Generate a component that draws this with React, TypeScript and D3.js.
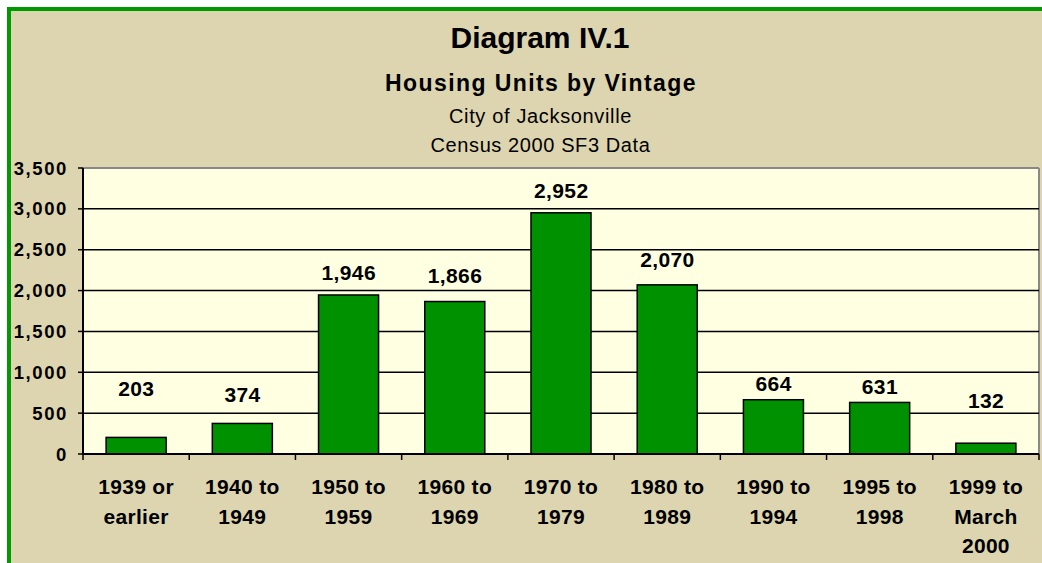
import React from "react";
import * as d3 from "d3";

const categories: string[][] = [
  ["1939 or", "earlier"],
  ["1940 to", "1949"],
  ["1950 to", "1959"],
  ["1960 to", "1969"],
  ["1970 to", "1979"],
  ["1980 to", "1989"],
  ["1990 to", "1994"],
  ["1995 to", "1998"],
  ["1999 to", "March", "2000"],
];
const units: number[] = [203, 374, 1946, 1866, 2952, 2070, 664, 631, 132];
const yTicks: number[] = [0, 500, 1000, 1500, 2000, 2500, 3000, 3500];
const titles = {
  main: "Diagram IV.1",
  sub: "Housing Units by Vintage",
  line1: "City of Jacksonville",
  line2: "Census 2000 SF3 Data",
};
// label lift above bar top (layout, px) — as placed in the original
const labelGap: number[] = [41, 21, 15, 19, 15, 18, 9, 8, 35];

const W = 1042;
const H = 563;
const plot = { left: 83, right: 1039, top: 168, bottom: 454 };
const FONT = "'Liberation Sans', Arial, sans-serif";

export default function App() {
  const x = d3
    .scaleBand<number>()
    .domain(d3.range(categories.length))
    .range([plot.left, plot.right])
    .paddingInner(0.435)
    .paddingOuter(0.2175);
  const y = d3.scaleLinear().domain([0, 3500]).range([plot.bottom, plot.top]);
  const step = x.step();
  const fmt = d3.format(",");
  const boundaries = d3.range(categories.length + 1).map((i) => plot.left + i * step);

  return (
    <svg
      width={W}
      height={H}
      style={{ position: "absolute", left: 0, top: 0, display: "block" }}
      fontFamily={FONT}
    >
      <rect x={0} y={0} width={W} height={H} fill="#ffffff" />
      <rect x={9} y={9} width={W + 20} height={H + 20} fill="#DDD5AF" stroke="#009A00" strokeWidth={4} />

      <text x={540} y={48} textAnchor="middle" fontSize={30} fontWeight="bold" fill="#000">
        {titles.main}
      </text>
      <text x={541} y={91} textAnchor="middle" fontSize={23} fontWeight="bold" letterSpacing={1.4} fill="#000">
        {titles.sub}
      </text>
      <text x={540.5} y={123} textAnchor="middle" fontSize={20} letterSpacing={0.65} fill="#000">
        {titles.line1}
      </text>
      <text x={540.5} y={152} textAnchor="middle" fontSize={20} letterSpacing={0.6} fill="#000">
        {titles.line2}
      </text>

      <rect
        x={plot.left}
        y={plot.top}
        width={plot.right - plot.left}
        height={plot.bottom - plot.top}
        fill="#FFFFE1"
      />
      {/* gray top and right frame */}
      <line x1={plot.left} x2={plot.right} y1={plot.top} y2={plot.top} stroke="#888" strokeWidth={2} />
      <line x1={plot.right} x2={plot.right} y1={plot.top} y2={plot.bottom} stroke="#888" strokeWidth={2} />

      {yTicks
        .filter((t) => t > 0 && t < 3500)
        .map((t) => (
          <line
            key={"g" + t}
            x1={plot.left}
            x2={plot.right}
            y1={y(t)}
            y2={y(t)}
            stroke="#000"
            strokeWidth={1.5}
          />
        ))}

      {units.map((v, i) => (
        <rect
          key={"b" + i}
          x={x(i)}
          y={y(v)}
          width={x.bandwidth()}
          height={y(0) - y(v)}
          fill="#009100"
          stroke="#000"
          strokeWidth={1.5}
        />
      ))}

      {units.map((v, i) => (
        <text
          key={"l" + i}
          x={(x(i) as number) + x.bandwidth() / 2 + 0.2}
          y={y(v) - labelGap[i]}
          textAnchor="middle"
          fontSize={21}
          fontWeight="bold"
          letterSpacing={0.4}
          fill="#000"
        >
          {fmt(v)}
        </text>
      ))}

      {/* axes */}
      <line x1={plot.left} x2={plot.left} y1={plot.top} y2={plot.bottom} stroke="#000" strokeWidth={2} />
      <line x1={plot.left} x2={plot.right} y1={plot.bottom} y2={plot.bottom} stroke="#000" strokeWidth={2} />

      {yTicks.map((t) => (
        <g key={"yt" + t}>
          <line x1={plot.left - 5} x2={plot.left} y1={y(t)} y2={y(t)} stroke="#000" strokeWidth={1.5} />
          <text
            x={68}
            y={y(t) + 6.5}
            textAnchor="end"
            fontSize={18.5}
            fontWeight="bold"
            letterSpacing={1.6}
            fill="#000"
          >
            {fmt(t)}
          </text>
        </g>
      ))}

      {boundaries.map((bx, i) => (
        <line key={"xt" + i} x1={bx} x2={bx} y1={plot.bottom} y2={plot.bottom + 6} stroke="#000" strokeWidth={1.5} />
      ))}

      {categories.map((lines, i) => (
        <text
          key={"c" + i}
          x={(x(i) as number) + x.bandwidth() / 2}
          textAnchor="middle"
          fontSize={21}
          fontWeight="bold"
          letterSpacing={0.3}
          fill="#000"
        >
          {lines.map((ln, j) => (
            <tspan key={j} x={(x(i) as number) + x.bandwidth() / 2} y={494 + j * 29.5}>
              {ln}
            </tspan>
          ))}
        </text>
      ))}
    </svg>
  );
}
